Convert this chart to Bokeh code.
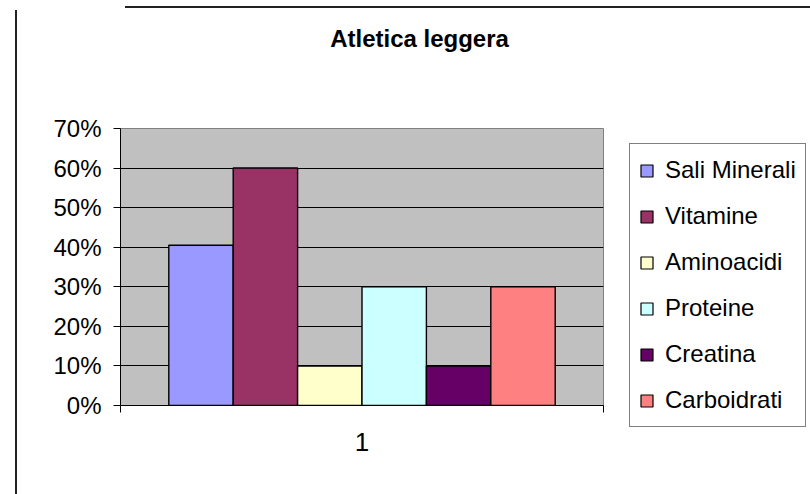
from bokeh.plotting import figure
from bokeh.layouts import column, row
from bokeh.models import (Range1d, FixedTicker, NumeralTickFormatter, Legend, LegendItem,
                          Label, InlineStyleSheet)
from bokeh.core.properties import value
from bokeh.embed import file_html
from bokeh.resources import INLINE

# --- data -------------------------------------------------------------------
chart_title = "Atletica leggera"
categories = ["1"]
series = ["Sali Minerali", "Vitamine", "Aminoacidi", "Proteine", "Creatina", "Carboidrati"]
values = [0.405, 0.60, 0.10, 0.30, 0.10, 0.30]
colors = ["#9999FF", "#993366", "#FFFFCC", "#CCFFFF", "#660066", "#FF8080"]
y_ticks = [0.0, 0.1, 0.2, 0.3, 0.4, 0.5, 0.6, 0.7]

FONT = "Liberation Sans"

# --- layout of the clustered bars (Excel-like gap width of 150%) -------------
gap = 1.5
n = len(series)
bar_w = 1.0 / (n + gap)
xs = [gap / 2 * bar_w + bar_w * (i + 0.5) for i in range(n)]


def bare(fig, left=0, right=0):
    """Strip a figure down to a transparent drawing surface."""
    fig.min_border = 0
    fig.min_border_left = left
    fig.min_border_right = right
    fig.min_border_top = 0
    fig.min_border_bottom = 0
    fig.outline_line_color = None
    fig.background_fill_color = None
    fig.border_fill_color = None
    fig.grid.visible = False
    return fig


# --- header with the chart title -----------------------------------------------
header = bare(figure(width=606, height=60, output_backend="svg", toolbar_location=None,
                     x_axis_location=None, y_axis_location=None,
                     x_range=Range1d(0, 1), y_range=Range1d(0, 1)),
              left=120, right=3)
header.add_layout(Label(x=299, y=22, x_units="screen", y_units="screen",
                        text=chart_title, text_align="center",
                        text_baseline="alphabetic", text_font=FONT,
                        text_font_style="bold", text_font_size="24px",
                        text_color="black"))

# --- main chart ---------------------------------------------------------------
p = figure(width=606, height=434, output_backend="svg", toolbar_location=None,
           x_range=Range1d(0, 1), y_range=Range1d(0, y_ticks[-1]),
           min_border_left=120, min_border_right=3, min_border_top=68,
           min_border_bottom=89, background_fill_color="#C0C0C0",
           border_fill_color=None)
p.outline_line_color = "#808080"
p.outline_line_width = 1

p.yaxis.ticker = FixedTicker(ticks=y_ticks, minor_ticks=[])
p.yaxis.formatter = NumeralTickFormatter(format="0%")
p.yaxis.major_tick_out = 7
p.yaxis.major_tick_in = 0
p.yaxis.minor_tick_line_color = None
p.yaxis.axis_line_color = "black"
p.yaxis.major_tick_line_color = "black"
p.yaxis.major_label_standoff = 12
p.yaxis.major_label_text_font = FONT
p.yaxis.major_label_text_font_size = "24px"
p.yaxis.major_label_text_color = "black"

p.xaxis.ticker = FixedTicker(ticks=[0.5], minor_ticks=[0.0, 1.0])
p.xaxis.major_label_overrides = {0.5: categories[0]}
p.xaxis.major_tick_line_color = None
p.xaxis.minor_tick_out = 7
p.xaxis.minor_tick_in = 0
p.xaxis.minor_tick_line_color = "black"
p.xaxis.axis_line_color = "black"
p.xaxis.major_label_standoff = 20
p.xaxis.major_label_text_font = FONT
p.xaxis.major_label_text_font_size = "26px"
p.xaxis.major_label_text_color = "black"

p.xgrid.visible = False
p.ygrid.ticker = FixedTicker(ticks=y_ticks, minor_ticks=[])
p.ygrid.grid_line_color = "black"
p.ygrid.grid_line_width = 1

for i, name in enumerate(series):
    p.vbar(x=xs[i], top=values[i], bottom=0, width=bar_w,
           fill_color=colors[i], line_color="black", line_width=1.4)

# --- legend panel -------------------------------------------------------------
side = bare(figure(width=204, height=494, output_backend="svg", toolbar_location=None,
                   x_axis_location=None, y_axis_location=None,
                   x_range=Range1d(0, 1), y_range=Range1d(0, 1)))
items = []
for i, name in enumerate(series):
    r = side.vbar(x=xs[i], top=values[i], bottom=0, width=bar_w,
                  fill_color=colors[i], line_color="black", line_width=1.2,
                  visible=False)
    items.append(LegendItem(label=value(name), renderers=[r]))

side.add_layout(Legend(items=items, location=(23, 67), margin=0, padding=9,
                       glyph_width=15, glyph_height=15, label_standoff=11,
                       label_height=34, spacing=12,
                       label_text_font=FONT, label_text_font_size="24px",
                       label_text_color="black",
                       border_line_color="black", border_line_width=1,
                       background_fill_color="white", background_fill_alpha=1))

# page rules around the chart (sheet cell borders)
page_css = """
:host {
  background-color: white;
  background-image: linear-gradient(#222, #222), linear-gradient(#222, #222);
  background-size: 2px 484px, 685px 2px;
  background-position: 15px 10px, 125px 6px;
  background-repeat: no-repeat;
}
"""

page = row(column(header, p, spacing=0), side, spacing=0,
           stylesheets=[InlineStyleSheet(css=page_css)])

open("out.html", "w").write(file_html(page, INLINE))
